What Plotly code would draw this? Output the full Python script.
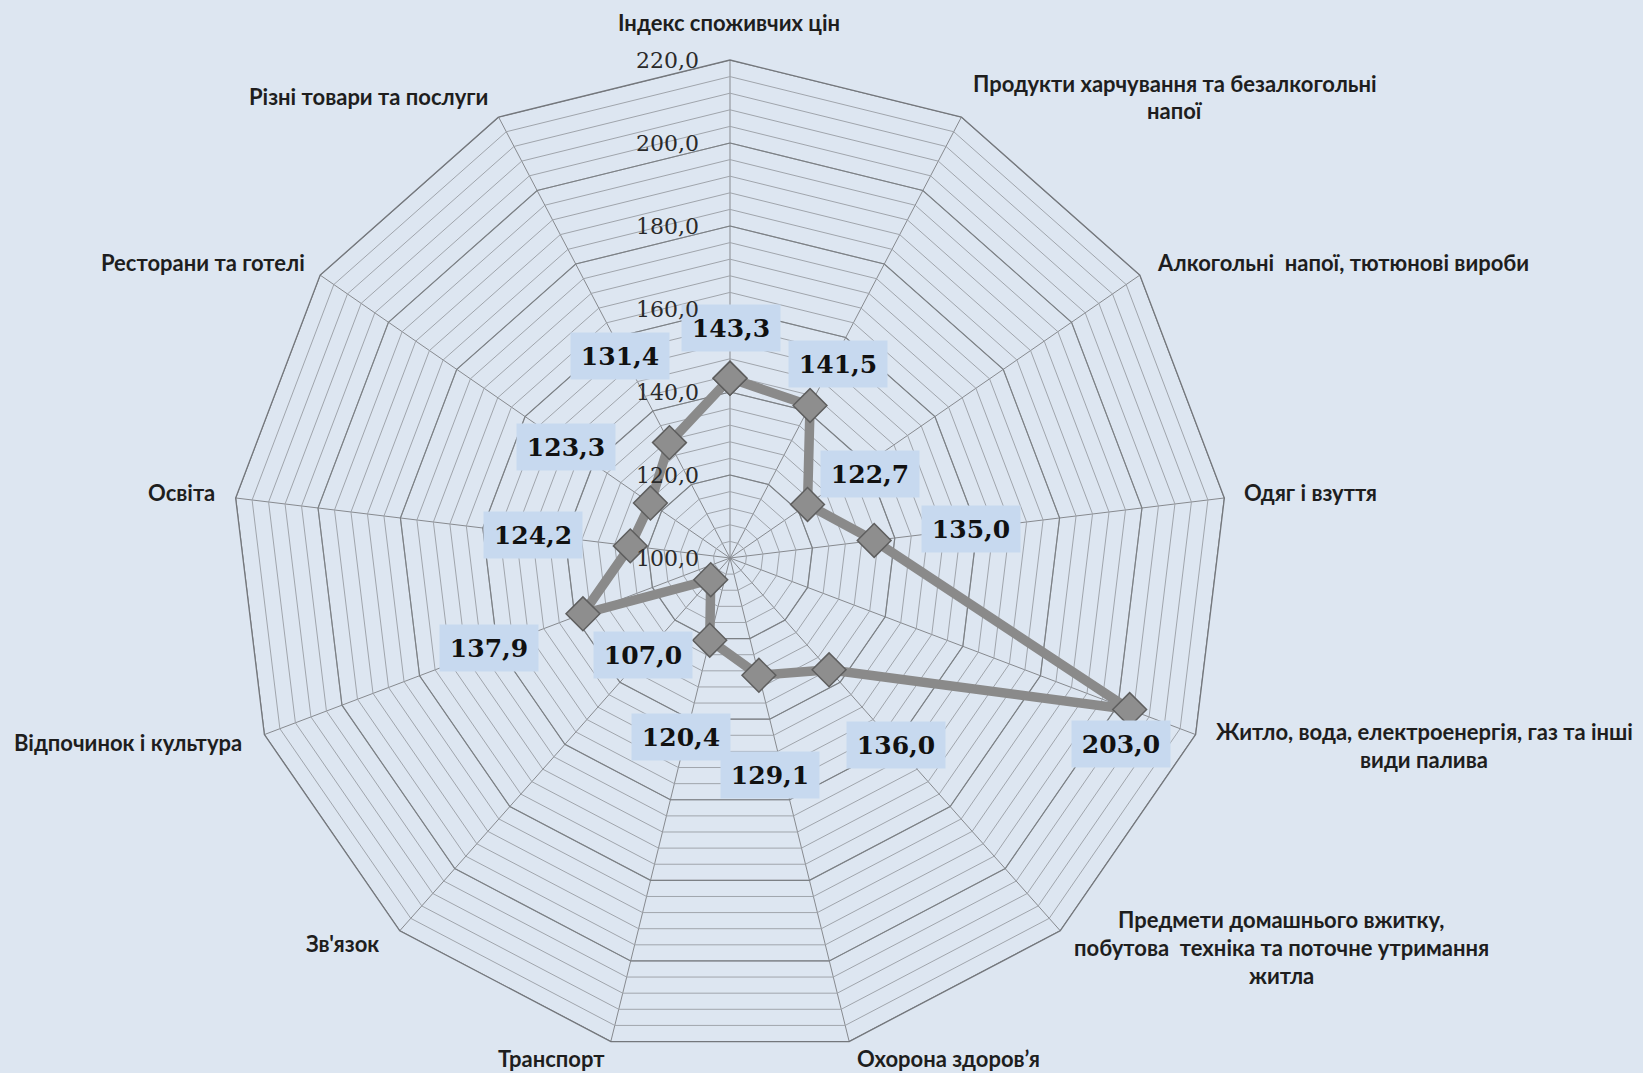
import plotly.graph_objects as go

# ---------------- data ----------------
categories = [
    "Індекс споживчих цін",
    "Продукти харчування та безалкогольні напої",
    "Алкогольні  напої, тютюнові вироби",
    "Одяг і взуття",
    "Житло, вода, електроенергія, газ та інші види палива",
    "Предмети домашнього вжитку, побутова  техніка та поточне утримання житла",
    "Охорона здоров’я",
    "Транспорт",
    "Зв'язок",
    "Відпочинок і культура",
    "Освіта",
    "Ресторани та готелі",
    "Різні товари та послуги",
]
category_lines = [
    ["Індекс споживчих цін"],
    ["Продукти харчування та безалкогольні", "напої"],
    ["Алкогольні  напої, тютюнові вироби"],
    ["Одяг і взуття"],
    ["Житло, вода, електроенергія, газ та інші", "види палива"],
    ["Предмети домашнього вжитку,", "побутова  техніка та поточне утримання", "житла"],
    ["Охорона здоров’я"],
    ["Транспорт"],
    ["Зв'язок"],
    ["Відпочинок і культура"],
    ["Освіта"],
    ["Ресторани та готелі"],
    ["Різні товари та послуги"],
]
values = [143.3, 141.5, 122.7, 135.0, 203.0, 136.0, 129.1, 120.4, 107.0, 137.9, 124.2, 123.3, 131.4]
major_ticks = [100, 120, 140, 160, 180, 200, 220]
minor_step = 4

# ---------------- layout geometry (pixels) ----------------
W, H = 1643, 1073
CX, CY, R = 730, 558, 498
RMIN, RMAX = 100, 220

# category label centres (pixels)
cat_label_pos = [
    (729, 22), (1175, 97), (1343, 262), (1310, 493), (1424, 745),
    (1281, 947), (949, 1058), (551, 1058), (342, 943), (128, 742),
    (181, 493), (203, 262), (368, 97),
]
# value label box centres (pixels)
val_label_pos = [
    (731, 328), (838, 364), (870, 474), (971, 529), (1121, 744),
    (896, 745), (770, 775), (681, 737), (643, 655), (489, 648),
    (533, 535), (566, 447), (620, 356),
]

def px(x):
    return x / W

def py(y):
    return 1 - y / H

BG = "#dde6f1"
fig = go.Figure()

# major rings (darker)
for t in major_ticks[1:]:
    fig.add_trace(go.Scatterpolar(
        r=[t] * (len(categories) + 1), theta=categories + categories[:1],
        mode="lines", line=dict(color="#7c8085", width=1.2),
        hoverinfo="skip", showlegend=False))

# data series
fig.add_trace(go.Scatterpolar(
    r=values + values[:1], theta=categories + categories[:1],
    mode="lines+markers",
    line=dict(color="#8a8a8a", width=9.5),
    marker=dict(symbol="diamond", size=26, color="#8e8e8e",
                line=dict(color="#5e5e5e", width=1.5)),
    showlegend=False, hoverinfo="r+theta"))

fig.update_layout(
    width=W, height=H,
    margin=dict(l=0, r=0, t=0, b=0),
    paper_bgcolor=BG,
    polar=dict(
        domain=dict(x=[(CX - R) / W, (CX + R) / W], y=[1 - (CY + R) / H, 1 - (CY - R) / H]),
        bgcolor=BG,
        gridshape="linear",
        radialaxis=dict(range=[RMIN, RMAX], dtick=minor_step, tick0=RMIN,
                        showticklabels=False, ticks="", showline=False,
                        gridcolor="#a0a5ac", gridwidth=1, angle=90),
        angularaxis=dict(direction="clockwise", rotation=90, showticklabels=False,
                         ticks="", showline=True, linecolor="#74777c", linewidth=1.3,
                         gridcolor="#878a8f", gridwidth=1,
                         categoryorder="array", categoryarray=categories),
    ),
)

ann = []
# category labels
LS = 28
for lines, (cx, cy) in zip(category_lines, cat_label_pos):
    n = len(lines)
    for i, line in enumerate(lines):
        y = cy + (i - (n - 1) / 2) * LS
        ann.append(dict(x=px(cx), y=py(y), xref="paper", yref="paper",
                        xanchor="center", yanchor="middle", showarrow=False,
                        text=f"<b>{line}</b>",
                        font=dict(family="Lato", size=22, color="#1e1e1e")))

# value labels
for v, (cx, cy) in zip(values, val_label_pos):
    ann.append(dict(x=px(cx), y=py(cy), xref="paper", yref="paper",
                    xanchor="center", yanchor="middle", showarrow=False,
                    text=f"<b>{v:.1f}</b>".replace(".", ","),
                    width=98, height=46, bgcolor="#c7d9ef", borderpad=0,
                    font=dict(family="DejaVu Serif", size=25, color="#111111")))

# radial tick labels (on top of value boxes)
for t in major_ticks:
    y = CY - (t - RMIN) / (RMAX - RMIN) * R
    ann.append(dict(x=px(CX - 29), y=py(y), xref="paper", yref="paper",
                    xanchor="right", yanchor="middle", showarrow=False,
                    text=f"{t:.1f}".replace(".", ","),
                    font=dict(family="DejaVu Serif", size=22, color="#2a2a2a")))

fig.update_layout(annotations=ann)
fig.write_html("out.html", config={"displayModeBar": False},
               post_script="document.body.style.margin='0';document.body.style.overflow='hidden';")
